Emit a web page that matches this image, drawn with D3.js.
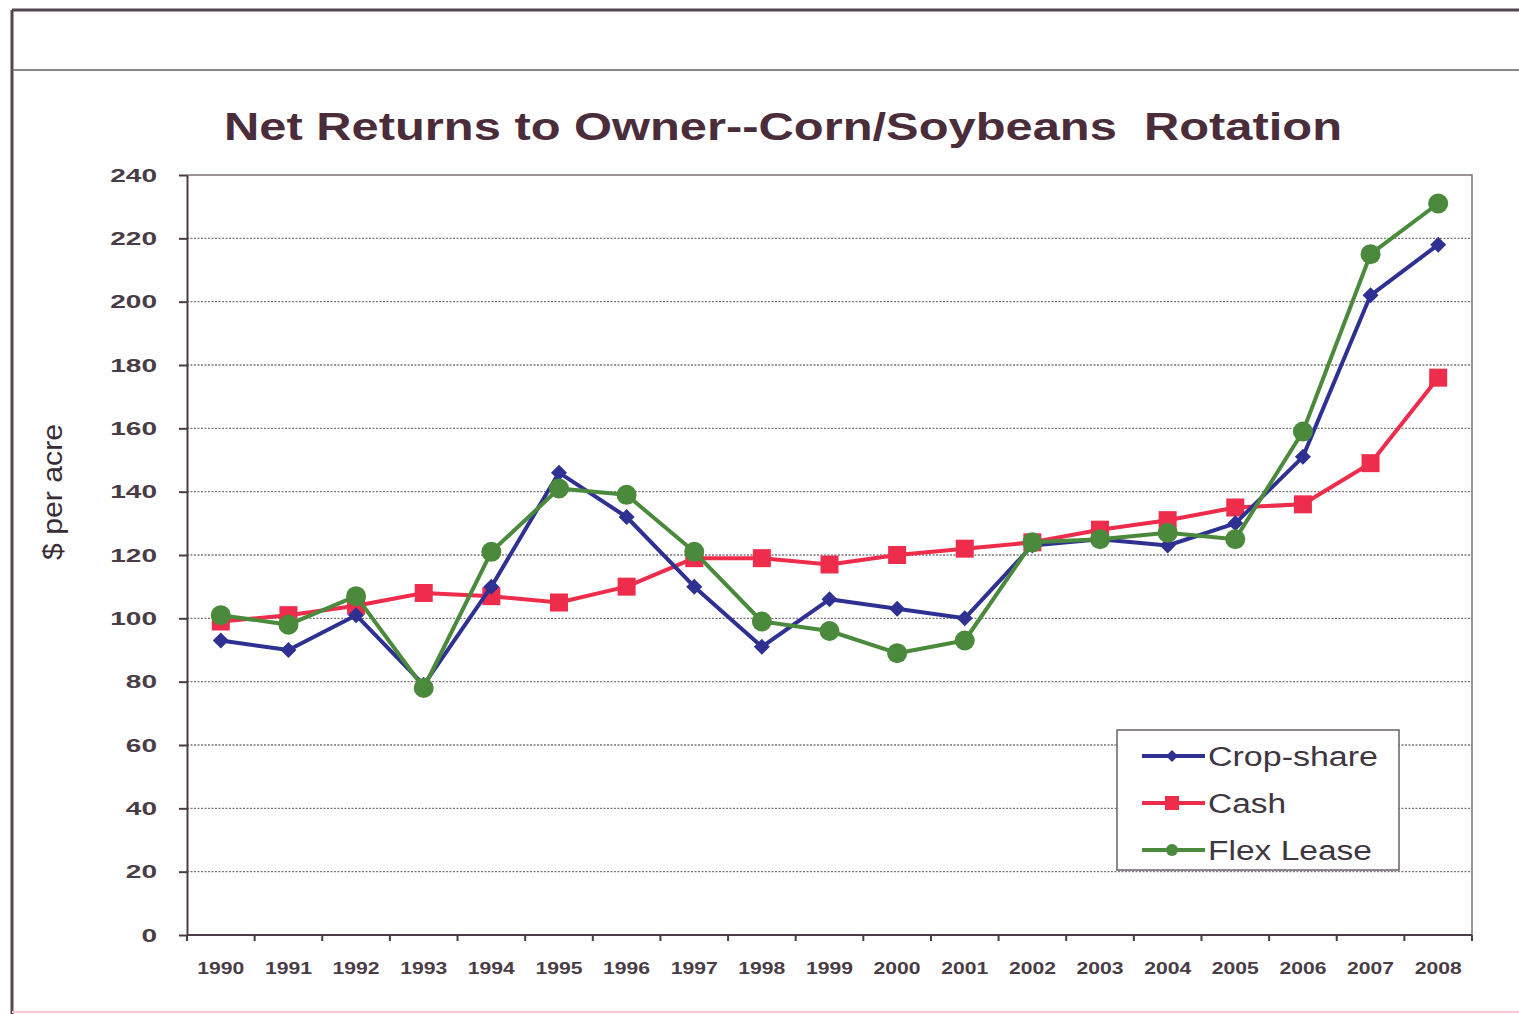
<!DOCTYPE html>
<html>
<head>
<meta charset="utf-8">
<script src="https://cdn.jsdelivr.net/npm/d3@7"></script>
<style>
  body { margin: 0; background: #fff; }
  svg { display: block; }
  .grid line { stroke: #7e747c; stroke-width: 1.3; stroke-dasharray: 2 1.5; }
  .axis path, .axis line { stroke: #4a3c46; stroke-width: 2; }
  .axis text { font-family: Arial, "Liberation Sans", sans-serif; fill: #4a3c46; font-weight: bold; }
</style>
</head>
<body>
<div id="vis"></div>
<script>
'use strict';

var years = ['1990', '1991', '1992', '1993', '1994', '1995', '1996', '1997', '1998', '1999',
             '2000', '2001', '2002', '2003', '2004', '2005', '2006', '2007', '2008'];
var cropShare = [93, 90, 101, 79, 110, 146, 132, 110, 91, 106, 103, 100, 123, 125, 123, 130, 151, 202, 218];
var cash      = [99, 101, 104, 108, 107, 105, 110, 119, 119, 117, 120, 122, 124, 128, 131, 135, 136, 149, 176];
var flexLease = [101, 98, 107, 78, 121, 141, 139, 121, 99, 96, 89, 93, 124, 125, 127, 125, 159, 215, 231];
var yTicks = [0, 20, 40, 60, 80, 100, 120, 140, 160, 180, 200, 220, 240];

var seriesList = [
    { name: 'Crop-share', values: cropShare, color: '#2e3192', shape: 'diamond' },
    { name: 'Cash', values: cash, color: '#ee2d4c', shape: 'square' },
    { name: 'Flex Lease', values: flexLease, color: '#4b8a3c', shape: 'circle' }
];

var width = 1519, height = 1014;
var svg = d3.select('#vis').append('svg')
    .attr('width', width)
    .attr('height', height);

// outer frame
svg.append('line').attr('x1', 12).attr('y1', 10).attr('x2', width).attr('y2', 10)
    .attr('stroke', '#554650').attr('stroke-width', 3);
svg.append('line').attr('x1', 12).attr('y1', 10).attr('x2', 12).attr('y2', height)
    .attr('stroke', '#554650').attr('stroke-width', 3);
svg.append('line').attr('x1', 12).attr('y1', 70).attr('x2', width).attr('y2', 70)
    .attr('stroke', '#6a5e66').attr('stroke-width', 1.5);
svg.append('line').attr('x1', 12).attr('y1', 1012).attr('x2', width).attr('y2', 1012)
    .attr('stroke', '#f4c8cc').attr('stroke-width', 2);

var plotLeft = 187, plotRight = 1472, plotTop = 175, plotBottom = 935;

var x = d3.scaleBand().domain(years).range([plotLeft, plotRight]);
var y = d3.scaleLinear().domain([0, 240]).range([plotBottom, plotTop]);

// title (double space kept as in the original)
svg.append('text')
    .attr('x', 783)
    .attr('y', 140)
    .attr('text-anchor', 'middle')
    .attr('font-family', 'Arial, "Liberation Sans", sans-serif')
    .attr('font-weight', 'bold')
    .attr('font-size', 38)
    .attr('fill', '#4a2c3a')
    .attr('textLength', 1118)
    .attr('lengthAdjust', 'spacingAndGlyphs')
    .style('white-space', 'pre')
    .text('Net Returns to Owner--Corn/Soybeans  Rotation');

// gridlines
svg.append('g').attr('class', 'grid')
    .selectAll('line')
    .data(yTicks.filter(function (d) { return d > 0 && d < 240; }))
    .enter().append('line')
    .attr('x1', plotLeft).attr('x2', plotRight)
    .attr('y1', function (d) { return y(d); })
    .attr('y2', function (d) { return y(d); });

// plot frame (top and right)
svg.append('path')
    .attr('d', 'M' + plotLeft + ',' + plotTop + 'H' + plotRight + 'V' + plotBottom)
    .attr('fill', 'none')
    .attr('stroke', '#7a7078')
    .attr('stroke-width', 1.5);

// y axis
var yAxis = svg.append('g').attr('class', 'axis')
    .attr('transform', 'translate(' + plotLeft + ',0)')
    .call(d3.axisLeft(y).tickValues(yTicks).tickSize(8).tickPadding(22).tickSizeOuter(0));
yAxis.selectAll('text')
    .attr('font-size', 19)
    .attr('textLength', function (d) { return String(d).length * 15.6; })
    .attr('lengthAdjust', 'spacingAndGlyphs');

// x axis with ticks at category boundaries
var xAxisG = svg.append('g').attr('class', 'axis')
    .attr('transform', 'translate(0,' + plotBottom + ')');
xAxisG.append('line').attr('x1', plotLeft).attr('x2', plotRight).attr('y1', 0).attr('y2', 0);
xAxisG.selectAll('.xtick')
    .data(years.concat(['end']))
    .enter().append('line')
    .attr('class', 'xtick')
    .attr('x1', function (d, i) { return plotLeft + i * x.step(); })
    .attr('x2', function (d, i) { return plotLeft + i * x.step(); })
    .attr('y1', 0).attr('y2', 6);
xAxisG.selectAll('.xlabel')
    .data(years)
    .enter().append('text')
    .attr('class', 'xlabel')
    .attr('x', function (d) { return x(d) + x.bandwidth() / 2; })
    .attr('y', 39)
    .attr('text-anchor', 'middle')
    .attr('font-size', 17)
    .attr('textLength', 47)
    .attr('lengthAdjust', 'spacingAndGlyphs')
    .text(function (d) { return d; });

// y axis label
svg.append('text')
    .attr('transform', 'translate(62,492) rotate(-90)')
    .attr('text-anchor', 'middle')
    .attr('font-family', 'Arial, "Liberation Sans", sans-serif')
    .attr('font-size', 28)
    .attr('fill', '#3a2c36')
    .attr('textLength', 136)
    .attr('lengthAdjust', 'spacingAndGlyphs')
    .text('$ per acre');

function drawMarker(g, shape, color, s) {
    if (shape === 'diamond') {
        g.append('path').attr('d', 'M0,' + (-s) + 'L' + s + ',0L0,' + s + 'L' + (-s) + ',0Z').attr('fill', color);
    } else if (shape === 'square') {
        g.append('rect').attr('x', -s).attr('y', -s).attr('width', 2 * s).attr('height', 2 * s).attr('fill', color);
    } else {
        g.append('circle').attr('r', s).attr('fill', color);
    }
}

var markerSize = { diamond: 8, square: 9, circle: 10 };

var line = d3.line()
    .x(function (d, i) { return x(years[i]) + x.bandwidth() / 2; })
    .y(function (d) { return y(d); });

// draw order: cash, crop-share, flex lease on top
[seriesList[1], seriesList[0], seriesList[2]].forEach(function (s) {
    var g = svg.append('g');
    g.append('path')
        .attr('d', line(s.values))
        .attr('fill', 'none')
        .attr('stroke', s.color)
        .attr('stroke-width', 4)
        .attr('stroke-linejoin', 'round');
    g.selectAll('g.pt')
        .data(s.values)
        .enter().append('g')
        .attr('class', 'pt')
        .attr('transform', function (d, i) {
            return 'translate(' + (x(years[i]) + x.bandwidth() / 2) + ',' + y(d) + ')';
        })
        .each(function () { drawMarker(d3.select(this), s.shape, s.color, markerSize[s.shape]); });
});

// legend
var legendWidths = [170, 78, 164];
var legend = svg.append('g').attr('transform', 'translate(1117,730)');
legend.append('rect')
    .attr('width', 282).attr('height', 140)
    .attr('fill', '#fff')
    .attr('stroke', '#6a6068')
    .attr('stroke-width', 1.5);
seriesList.forEach(function (s, i) {
    var row = legend.append('g').attr('transform', 'translate(0,' + (26 + i * 47) + ')');
    row.append('line')
        .attr('x1', 25).attr('x2', 88).attr('y1', 0).attr('y2', 0)
        .attr('stroke', s.color).attr('stroke-width', 4);
    var m = row.append('g').attr('transform', 'translate(55,0)');
    drawMarker(m, s.shape, s.color, s.shape === 'square' ? 7 : 6);
    row.append('text')
        .attr('x', 91).attr('y', 10)
        .attr('font-family', 'Arial, "Liberation Sans", sans-serif')
        .attr('font-size', 27)
        .attr('fill', '#3e3640')
        .attr('textLength', legendWidths[i])
        .attr('lengthAdjust', 'spacingAndGlyphs')
        .text(s.name);
});
</script>
</body>
</html>
